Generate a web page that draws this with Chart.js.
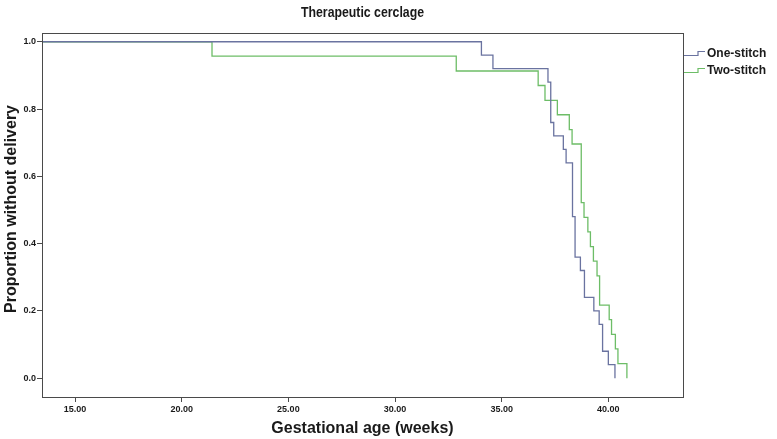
<!DOCTYPE html>
<html>
<head>
<meta charset="utf-8">
<script src="https://cdn.jsdelivr.net/npm/chart.js@4.4.1/dist/chart.umd.min.js"></script>
<style>
  html, body { margin: 0; padding: 0; background: #fff; }
</style>
</head>
<body>
<canvas id="km" width="777" height="439"></canvas>
<script>
// Kaplan-Meier steps: week of each drop, proportion after it
const oneWeeks = [0, 34.05, 34.59, 37.17, 37.30, 37.44, 37.89, 38.02, 38.32, 38.44, 38.69, 38.88, 39.32, 39.57, 39.73, 40.00, 40.31];
const oneSurv  = [1, 0.96, 0.92, 0.88, 0.76, 0.72, 0.68, 0.64, 0.48, 0.36, 0.32, 0.24, 0.20, 0.16, 0.08, 0.04, 0];
const twoWeeks = [0, 21.42, 32.87, 36.71, 37.03, 37.61, 38.17, 38.30, 38.73, 38.86, 39.04, 39.16, 39.30, 39.47, 39.59, 40.04, 40.15, 40.33, 40.45, 40.87];
const twoSurv  = [1, 0.957, 0.913, 0.870, 0.826, 0.783, 0.739, 0.696, 0.522, 0.478, 0.435, 0.391, 0.348, 0.304, 0.217, 0.174, 0.130, 0.087, 0.043, 0];

const xTicks = [15, 20, 25, 30, 35, 40];
const yTicks = [0, 0.2, 0.4, 0.6, 0.8, 1.0];
const seriesNames = ['One-stitch', 'Two-stitch'];
const seriesColors = ['#6a73a0', '#6dbd67'];

const chartTitle = 'Therapeutic cerclage';
const xTitle = 'Gestational age (weeks)';
const yTitle = 'Proportion without delivery';

const frameColor = '#4a4a4a';
const textColor = '#1a1a1a';

function toPoints(weeks, surv){
  return weeks.map((w, i) => ({ x: w, y: surv[i] }));
}

// frame, titles and the little step-shaped legend (drawn like SPSS does it)
const decorations = {
  id: 'decorations',
  afterDraw(chart){
    const ctx = chart.ctx;
    const a = chart.chartArea;
    ctx.save();
    ctx.strokeStyle = frameColor;
    ctx.lineWidth = 1;
    ctx.strokeRect(Math.round(a.left) + 0.5, Math.round(a.top) + 0.5,
                   Math.round(a.right - a.left), Math.round(a.bottom - a.top));

    ctx.fillStyle = textColor;
    ctx.textAlign = 'center';
    ctx.textBaseline = 'middle';
    const cx = (a.left + a.right) / 2;

    // title is a condensed bold face in the original, squeeze it a bit
    ctx.save();
    ctx.translate(cx, 13);
    ctx.scale(0.82, 1);
    ctx.font = "bold 15px 'Liberation Sans', Arial, sans-serif";
    ctx.fillText(chartTitle, 0, 0);
    ctx.restore();

    ctx.font = "bold 16px 'Liberation Sans', Arial, sans-serif";
    ctx.fillText(xTitle, cx, 429);
    ctx.save();
    ctx.translate(12, (a.top + a.bottom) / 2 - 6);
    ctx.rotate(-Math.PI / 2);
    ctx.fillText(yTitle, 0, 0);
    ctx.restore();

    // legend
    ctx.font = "bold 12px 'Liberation Sans', Arial, sans-serif";
    ctx.textAlign = 'left';
    seriesNames.forEach((name, i) => {
      const yb = a.top + 22 + i * 17;
      const x0 = a.right;
      ctx.strokeStyle = seriesColors[i];
      ctx.lineWidth = 1.2;
      ctx.beginPath();
      ctx.moveTo(x0 + 1, yb + 0.5);
      ctx.lineTo(x0 + 15, yb + 0.5);
      ctx.lineTo(x0 + 15, yb - 3.5);
      ctx.lineTo(x0 + 22, yb - 3.5);
      ctx.stroke();
      ctx.fillStyle = textColor;
      ctx.fillText(name, x0 + 24, yb - 1);
    });
    ctx.restore();
  }
};

new Chart(document.getElementById('km'), {
  type: 'line',
  data: {
    datasets: [
      {
        label: seriesNames[0],
        data: toPoints(oneWeeks, oneSurv),
        borderColor: seriesColors[0],
        borderWidth: 1.3,
        pointRadius: 0,
        stepped: 'before',
        fill: false
      },
      {
        label: seriesNames[1],
        data: toPoints(twoWeeks, twoSurv),
        borderColor: seriesColors[1],
        borderWidth: 1.3,
        pointRadius: 0,
        stepped: 'before',
        fill: false
      }
    ]
  },
  options: {
    responsive: false,
    animation: false,
    layout: { padding: { top: 33, right: 94, left: 0, bottom: 0 } },
    plugins: {
      legend: { display: false },
      tooltip: { enabled: false },
      title: { display: false }
    },
    scales: {
      x: {
        type: 'linear',
        min: 13.45,
        max: 43.5,
        afterBuildTicks: s => { s.ticks = xTicks.map(v => ({ value: v })); },
        afterFit: s => { s.height = 42; },
        grid: { drawOnChartArea: false, tickLength: 5, color: frameColor },
        border: { color: frameColor },
        ticks: {
          padding: 2,
          maxRotation: 0,
          color: textColor,
          font: { family: "'Liberation Sans', Arial", size: 9, weight: 'bold' },
          callback: v => v.toFixed(2)
        }
      },
      y: {
        min: -0.056,
        max: 1.026,
        afterBuildTicks: s => { s.ticks = yTicks.map(v => ({ value: v })); },
        afterFit: s => { s.width = 42; },
        grid: { drawOnChartArea: false, tickLength: 5, color: frameColor },
        border: { color: frameColor },
        ticks: {
          padding: 1,
          color: textColor,
          font: { family: "'Liberation Sans', Arial", size: 9, weight: 'bold' },
          callback: v => v.toFixed(1)
        }
      }
    }
  },
  plugins: [decorations]
});
</script>
</body>
</html>
